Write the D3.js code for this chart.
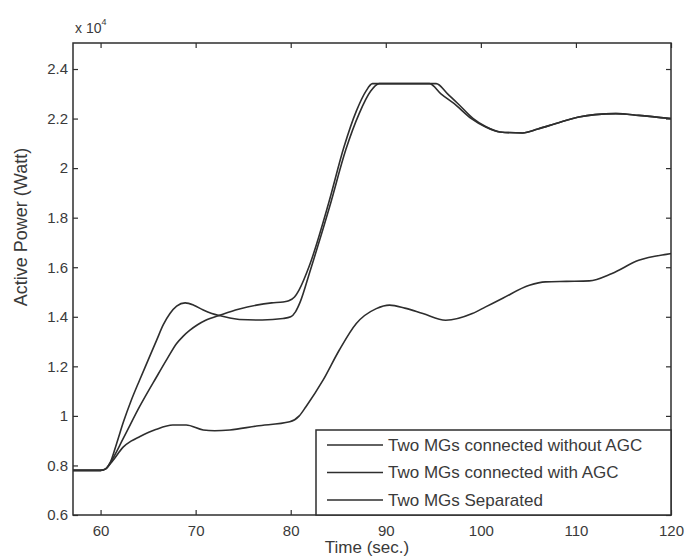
<!DOCTYPE html>
<html>
<head>
<meta charset="utf-8">
<script src="https://cdn.jsdelivr.net/npm/d3@7"></script>
<style>
  html, body { margin: 0; padding: 0; background: #fff; }
  svg { display: block; }
  text { font-family: "Liberation Sans", Arial, Helvetica, sans-serif; fill: #3a3a3a; }
</style>
</head>
<body>
<svg id="chart" width="695" height="560"></svg>
<script>
// Active power response of two micro-grids (values in units of 1e4 W)
const xTicks = [60, 70, 80, 90, 100, 110, 120];
const yTicks = [0.6, 0.8, 1.0, 1.2, 1.4, 1.6, 1.8, 2.0, 2.2, 2.4];
const yTickLabels = ["0.6", "0.8", "1", "1.2", "1.4", "1.6", "1.8", "2", "2.2", "2.4"];

const seriesNames = [
  "Two MGs connected without AGC",
  "Two MGs connected with AGC",
  "Two MGs Separated"
];

const timeWithout = [57.1, 60, 60.5, 61, 61.7, 62.4, 63.2, 64.1, 65, 65.9, 66.6, 67.3, 68, 68.9, 69.8, 70.8, 71.7, 72.7, 73.6, 74.6, 77, 79.2, 80, 80.5, 81, 82, 84.1, 85.8, 87.2, 88.4, 89.3, 95.3, 96.5, 97.6, 99.2, 100.5, 102, 104.4, 106, 107.9, 110.3, 112, 114.2, 116.6, 120];
const powerWithout = [0.78, 0.78, 0.785, 0.81, 0.89, 0.975, 1.06, 1.144, 1.225, 1.306, 1.368, 1.413, 1.443, 1.456, 1.447, 1.427, 1.413, 1.403, 1.395, 1.389, 1.387, 1.393, 1.40, 1.42, 1.46, 1.58, 1.845, 2.075, 2.22, 2.31, 2.341, 2.341, 2.30, 2.26, 2.2, 2.168, 2.146, 2.142, 2.158, 2.18, 2.206, 2.216, 2.22, 2.213, 2.2];

const timeWith = [57.1, 60, 60.5, 61, 62.4, 64.1, 65.9, 67, 68.0, 68.7, 69.4, 70.2, 71, 72.7, 74.5, 76.4, 78, 79.2, 79.8, 80.4, 80.9, 82, 84, 85.6, 86.9, 87.9, 88.6, 94.6, 95.8, 97.2, 99, 100.5, 102, 104.4, 106, 107.9, 110.3, 112, 114.2, 116.6, 120];
const powerWith = [0.78, 0.78, 0.785, 0.81, 0.91, 1.037, 1.158, 1.23, 1.292, 1.322, 1.346, 1.368, 1.385, 1.408, 1.43, 1.447, 1.456, 1.46, 1.465, 1.48, 1.51, 1.61, 1.86, 2.085, 2.23, 2.31, 2.341, 2.341, 2.30, 2.26, 2.2, 2.166, 2.146, 2.142, 2.158, 2.18, 2.206, 2.216, 2.22, 2.213, 2.2];

const timeSeparated = [57.1, 60, 60.5, 61.3, 62.4, 63.2, 64.1, 65.8, 67.6, 69, 70.8, 72, 73.6, 76.4, 79.9, 80.9, 81.6, 83.4, 85.1, 86.9, 89.0, 90.4, 92, 93.9, 96.3, 99.1, 100.5, 102.3, 105.1, 106.8, 109, 111.4, 113.8, 116.6, 119.5, 120];
const powerSeparated = [0.78, 0.78, 0.785, 0.82, 0.875, 0.898, 0.916, 0.945, 0.963, 0.963, 0.943, 0.94, 0.943, 0.959, 0.976, 1.0, 1.037, 1.144, 1.265, 1.373, 1.433, 1.447, 1.435, 1.413, 1.386, 1.413, 1.44, 1.475, 1.527, 1.541, 1.543, 1.545, 1.575, 1.628, 1.652, 1.655];

const series = [
  { name: seriesNames[0], t: timeWithout, p: powerWithout },
  { name: seriesNames[1], t: timeWith, p: powerWith },
  { name: seriesNames[2], t: timeSeparated, p: powerSeparated }
];

const svg = d3.select("#chart");
const plotLeft = 73, plotRight = 671, plotTop = 43, plotBottom = 515;
const ink = "#2e2e2e";

const x = d3.scaleLinear().domain([57.1, 120]).range([plotLeft, plotRight]);
const y = d3.scaleLinear().domain([0.6, 2.505]).range([plotBottom, plotTop]);

svg.append("defs").append("clipPath").attr("id", "plotClip")
  .append("rect").attr("x", plotLeft).attr("y", plotTop)
  .attr("width", plotRight - plotLeft).attr("height", plotBottom - plotTop);

// curves
const line = d3.line()
  .x(d => x(d[0]))
  .y(d => y(d[1]))
  .curve(d3.curveMonotoneX);

svg.append("g").attr("clip-path", "url(#plotClip)")
  .selectAll("path")
  .data(series)
  .join("path")
  .attr("d", s => line(s.t.map((t, i) => [t, s.p[i]])))
  .attr("fill", "none")
  .attr("stroke", ink)
  .attr("stroke-width", 1.6)
  .attr("stroke-linejoin", "round");

// axes with inward ticks on all four sides
const tickLen = 5;
const styleAxis = g => {
  g.select(".domain").remove();
  g.selectAll(".tick line").attr("stroke", ink).attr("stroke-width", 1.2);
  g.selectAll(".tick text").attr("font-size", 15).attr("fill", "#444")
    .style("font-family", '"Liberation Sans", Arial, sans-serif');
};

svg.append("g")
  .attr("transform", `translate(0,${plotBottom})`)
  .call(d3.axisBottom(x).tickValues(xTicks).tickSize(-tickLen).tickSizeOuter(0).tickPadding(10)
    .tickFormat(d3.format("d")))
  .call(styleAxis);

svg.append("g")
  .attr("transform", `translate(0,${plotTop})`)
  .call(d3.axisTop(x).tickValues(xTicks).tickSize(-tickLen).tickSizeOuter(0).tickFormat(""))
  .call(styleAxis);

svg.append("g")
  .attr("transform", `translate(${plotLeft},0)`)
  .call(d3.axisLeft(y).tickValues(yTicks).tickSize(-tickLen).tickSizeOuter(0).tickPadding(5)
    .tickFormat((d, i) => yTickLabels[i]))
  .call(styleAxis);

svg.append("g")
  .attr("transform", `translate(${plotRight},0)`)
  .call(d3.axisRight(y).tickValues(yTicks).tickSize(-tickLen).tickSizeOuter(0).tickFormat(""))
  .call(styleAxis);

// plot frame
svg.append("rect")
  .attr("x", plotLeft).attr("y", plotTop)
  .attr("width", plotRight - plotLeft).attr("height", plotBottom - plotTop)
  .attr("fill", "none").attr("stroke", ink).attr("stroke-width", 1.5);

// scale factor note
const sf = svg.append("text").attr("x", plotLeft + 2).attr("y", 33).attr("font-size", 14);
sf.append("tspan").text("x 10");
sf.append("tspan").attr("dy", -8).attr("font-size", 9).text("4");

// axis titles
svg.append("text")
  .attr("x", 367).attr("y", 553)
  .attr("text-anchor", "middle").attr("font-size", 17)
  .text("Time (sec.)");

svg.append("text")
  .attr("transform", "translate(27,227) rotate(-90)")
  .attr("text-anchor", "middle").attr("font-size", 18)
  .text("Active Power (Watt)");

// legend
const lg = svg.append("g");
lg.append("rect")
  .attr("x", 316).attr("y", 430)
  .attr("width", plotRight - 316).attr("height", plotBottom - 430)
  .attr("fill", "#fff").attr("stroke", ink).attr("stroke-width", 1.5);

const rows = lg.selectAll("g.row")
  .data(series)
  .join("g")
  .attr("class", "row")
  .attr("transform", (d, i) => `translate(0,${445 + i * 27.5})`);

rows.append("line")
  .attr("x1", 327).attr("x2", 383)
  .attr("stroke", ink).attr("stroke-width", 1.6);

rows.append("text")
  .attr("x", 388).attr("dy", "0.35em")
  .attr("font-size", 17)
  .text(d => d.name);
</script>
</body>
</html>
